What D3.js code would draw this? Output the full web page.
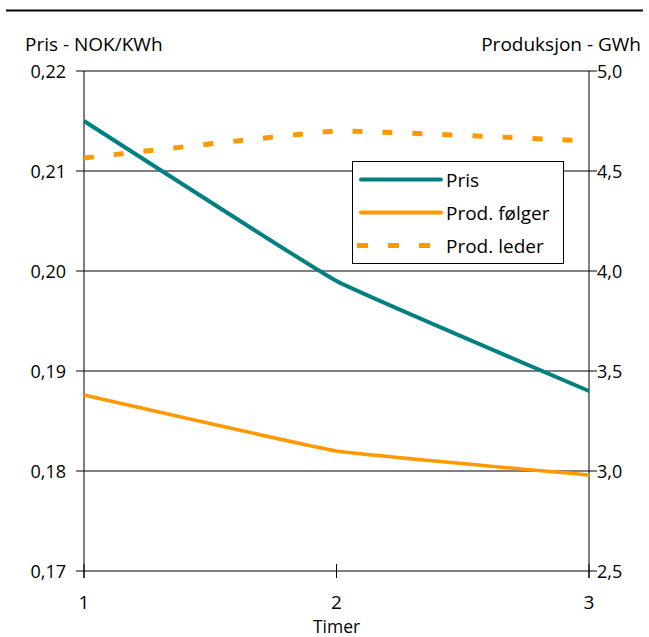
<!DOCTYPE html>
<html>
<head>
<meta charset="utf-8">
<script src="https://cdn.jsdelivr.net/npm/d3@7"></script>
<style>
  html, body { margin: 0; padding: 0; background: #fff; }
  svg { display: block; }
</style>
</head>
<body>
<div id="chart"></div>
<script>
// Pris og produksjon per time – to y-akser (pris venstre, produksjon høyre)
const timer = [1, 2, 3];
const pris = [0.215, 0.199, 0.188];          // NOK/KWh, venstre akse
const prodFolger = [3.38, 3.10, 2.98];       // GWh, høyre akse
const prodLeder = [4.565, 4.70, 4.65];       // GWh, høyre akse
const leftTicks = [0.17, 0.18, 0.19, 0.20, 0.21, 0.22];
const rightTicks = [2.5, 3.0, 3.5, 4.0, 4.5, 5.0];
const legendItems = ["Pris", "Prod. følger", "Prod. leder"];

const W = 649, H = 637;
const ML = 84, MR = 589, TOP = 71, BOT = 571;
const FONT = "'Open Sans', 'Noto Sans', sans-serif";
const TEAL = "#008080", ORANGE = "#ff9900";

const svg = d3.select("#chart").append("svg")
  .attr("width", W).attr("height", H);

const x = d3.scaleLinear().domain([1, 3]).range([ML, MR]);
const yL = d3.scaleLinear().domain([0.17, 0.22]).range([BOT, TOP]);
const yR = d3.scaleLinear().domain([2.5, 5.0]).range([BOT, TOP]);

// toppstrek
svg.append("line")
  .attr("x1", 6).attr("x2", 643).attr("y1", 10.5).attr("y2", 10.5)
  .attr("stroke", "#000").attr("stroke-width", 2.2);

// rutenett + tick-merker
leftTicks.forEach(v => {
  svg.append("line")
    .attr("x1", ML - 8).attr("x2", MR + 8).attr("y1", yL(v)).attr("y2", yL(v))
    .attr("stroke", "#000").attr("stroke-width", 1);
  svg.append("text")
    .attr("x", ML - 18).attr("y", yL(v) + 6.5).attr("text-anchor", "end")
    .attr("style", `font:18px ${FONT};fill:#000`)
    .text(d3.format(".2f")(v).replace(".", ","));
});
rightTicks.forEach(v => {
  svg.append("text")
    .attr("x", MR + 8).attr("y", yR(v) + 6.5).attr("text-anchor", "start")
    .attr("style", `font:18px ${FONT};fill:#000`)
    .text(d3.format(".1f")(v).replace(".", ","));
});

// akser
[ML, MR].forEach(px => {
  svg.append("line")
    .attr("x1", px).attr("x2", px).attr("y1", TOP).attr("y2", BOT + 7)
    .attr("stroke", "#000").attr("stroke-width", 1);
});
timer.forEach(t => {
  svg.append("line")
    .attr("x1", x(t)).attr("x2", x(t)).attr("y1", BOT - 7).attr("y2", BOT + 7)
    .attr("stroke", "#000").attr("stroke-width", 1);
  svg.append("text")
    .attr("x", x(t)).attr("y", 609).attr("text-anchor", "middle")
    .attr("style", `font:19px ${FONT};fill:#000`)
    .text(t);
});

// aksetitler
svg.append("text")
  .attr("x", 25).attr("y", 51)
  .attr("style", `font:19px ${FONT};fill:#000`)
  .text("Pris - NOK/KWh");
svg.append("text")
  .attr("x", 641).attr("y", 51).attr("text-anchor", "end")
  .attr("style", `font:19px ${FONT};fill:#000`)
  .text("Produksjon - GWh");
svg.append("text")
  .attr("x", x(2)).attr("y", 633).attr("text-anchor", "middle")
  .attr("style", `font:17.5px ${FONT};fill:#000`)
  .text("Timer");

// serier – svakt utjevnede linjer
const curve = d3.curveCardinal.tension(0.75);
const lineL = d3.line().x((d, i) => x(timer[i])).y(d => yL(d)).curve(curve);
const lineR = d3.line().x((d, i) => x(timer[i])).y(d => yR(d)).curve(curve);

svg.append("path").attr("d", lineR(prodFolger))
  .attr("fill", "none").attr("stroke", ORANGE).attr("stroke-width", 3.5);
svg.append("path").attr("d", lineR(prodLeder))
  .attr("fill", "none").attr("stroke", ORANGE).attr("stroke-width", 5)
  .attr("stroke-dasharray", "10 20");
svg.append("path").attr("d", lineL(pris))
  .attr("fill", "none").attr("stroke", TEAL).attr("stroke-width", 4);

// forklaring
const lg = svg.append("g");
lg.append("rect")
  .attr("x", 352.5).attr("y", 161.5).attr("width", 211).attr("height", 102)
  .attr("fill", "#fff").attr("stroke", "#000").attr("stroke-width", 1);
const styles = [
  { stroke: TEAL, w: 4, dash: null, cap: "round" },
  { stroke: ORANGE, w: 4, dash: null, cap: "round" },
  { stroke: ORANGE, w: 5, dash: "11 20", cap: "butt" },
];
legendItems.forEach((name, i) => {
  const yy = 179.5 + i * 33;
  const s = styles[i];
  lg.append("line")
    .attr("x1", s.cap === "round" ? 361 : 357).attr("x2", 441).attr("y1", yy).attr("y2", yy)
    .attr("stroke", s.stroke).attr("stroke-width", s.w)
    .attr("stroke-linecap", s.cap).attr("stroke-dasharray", s.dash);
  lg.append("text")
    .attr("x", 446).attr("y", yy + 7)
    .attr("style", `font:19px ${FONT};fill:#000`)
    .text(name);
});
</script>
</body>
</html>
